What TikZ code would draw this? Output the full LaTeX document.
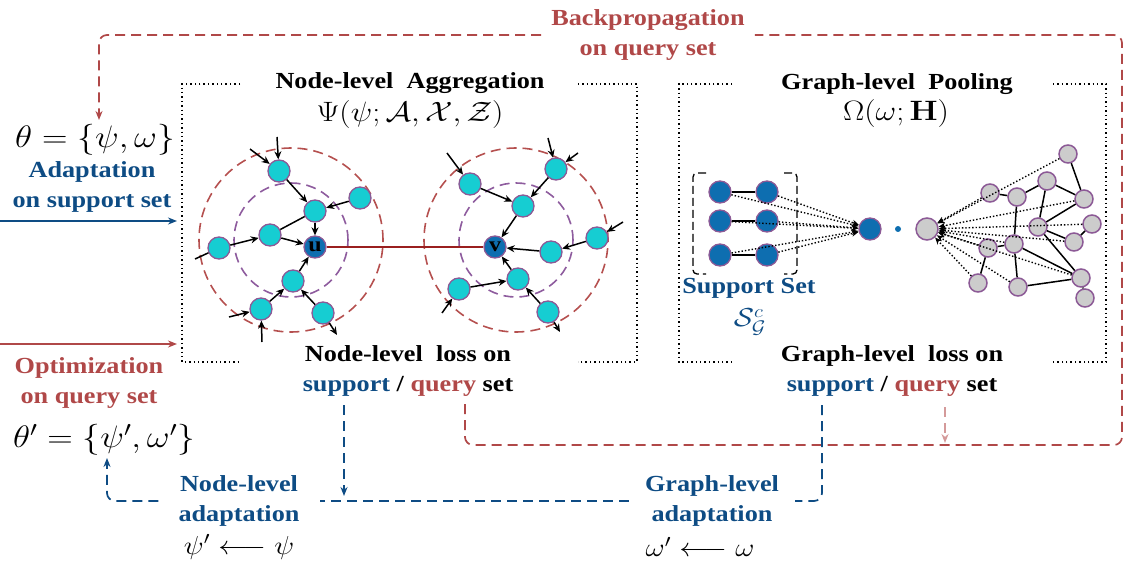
\RequirePackage{fix-cm}
\documentclass[tikz,border=0pt]{standalone}
\usepackage{amsmath}
\usepackage[no-math]{fontspec}
\setmainfont[FakeStretch=1.14]{Liberation Serif}
\usepackage{tikz}
\usetikzlibrary{arrows.meta,positioning}
\definecolor{redc}{HTML}{B04848}
\definecolor{lredc}{HTML}{D49A9A}
\definecolor{bluec}{HTML}{0E4C84}
\definecolor{cyanc}{HTML}{16CDD2}
\definecolor{nodeb}{HTML}{0E6EB0}
\definecolor{purpc}{HTML}{8C5A96}
\definecolor{greyc}{HTML}{CCCCCC}
\definecolor{uvc}{HTML}{9A1F1F}
\definecolor{circr}{HTML}{B5504F}
\definecolor{circp}{HTML}{8E5C9E}
\tikzset{
  lbl/.style={font=\fontsize{23}{30}\selectfont\bfseries,align=center,inner sep=0pt},
  mth/.style={font=\fontsize{#1}{#1}\selectfont,inner sep=0pt},
  cnode/.style={circle,draw=purpc,line width=1.3pt,fill=cyanc,minimum size=22pt,inner sep=0pt},
  bnode/.style={cnode,fill=nodeb,font=\fontsize{21}{21}\selectfont\bfseries},
  gnode/.style={circle,draw=purpc,line width=1.5pt,fill=greyc,minimum size=18pt,inner sep=0pt},
  ar/.style={-{Stealth[length=8pt,width=7pt]},line width=1.5pt},
  ln/.style={line width=1.5pt},
  dotar/.style={-{Stealth[length=7pt,width=6pt]},dotted,line width=1.4pt},
  frame/.style={dash pattern=on 1.4pt off 3pt,line width=1.4pt},
  odash/.style={circr,dash pattern=on 10pt off 6pt,line width=1.6pt},
  idash/.style={circp,dash pattern=on 10pt off 6pt,line width=1.6pt},
  rdash/.style={redc,dash pattern=on 10pt off 6pt,line width=1.7pt,rounded corners=8pt},
  bdash/.style={bluec,dash pattern=on 10pt off 6pt,line width=1.7pt,rounded corners=8pt},
  tip/.style={-{Stealth[length=9pt,width=7pt]}}
}
\newcommand{\mstr}[1]{\scalebox{1.14}[1]{$#1$}}

\begin{document}
\begin{tikzpicture}[x=1pt,y=-1pt]
\useasboundingbox (0,0) rectangle (1124,561);

% dotted frames
\draw[frame] (240,84) -| (182,362) -- (240,362);
\draw[frame] (578,84) -| (637,362) -- (578,362);
\draw[frame] (732,84) -| (679,362) -- (732,362);
\draw[frame] (1053,84) -| (1106,362) -- (1053,362);

% titles
\node[lbl] (nlagg) at (410,83) {Node-level\ \ Aggregation};
\node[mth=28] (psi) at (410,115) {\mstr{\Psi(\psi;\mathcal{A},\mathcal{X},\mathcal{Z})}};
\node[lbl] (glpool) at (897,84) {Graph-level\ \ Pooling};
\node[mth=28] (omg) at (896,114) {\mstr{\Omega(\omega;\mathbf{H})}};
\node[lbl] (nlloss) at (408,371) {Node-level\ \ loss on\\\textcolor{bluec}{support} / \textcolor{redc}{query} set};
\node[lbl] (glloss) at (892,371) {Graph-level\ \ loss on\\\textcolor{bluec}{support} / \textcolor{redc}{query} set};

% neighbourhood of u
\draw[odash] (291,240) circle[radius=92pt];
\draw[idash] (291,240) circle[radius=57pt];
\node[bnode] (u) at (315,247) {u};
\node[cnode] (n1) at (279,171) {};
\node[cnode] (n2) at (315,211) {};
\node[cnode] (n3) at (360,198) {};
\node[cnode] (n4) at (270,235) {};
\node[cnode] (n5) at (219,248) {};
\node[cnode] (n6) at (293,281) {};
\node[cnode] (n7) at (261,309) {};
\node[cnode] (n8) at (323,313) {};
\draw[ar] (n1) -- (n2);
\draw[ar] (n3) -- (n2);
\draw[ar] (n2) -- (u);
\draw[ln] (n4) -- (n2);
\draw[ar] (n4) -- (u);
\draw[ar] (n5) -- (n4);
\draw[ar] (n6) -- (u);
\draw[ar] (n7) -- (n6);
\draw[ar] (n8) -- (n6);
\coordinate (n1a) at (277,137);
\coordinate (n1b) at (250,149);
\coordinate (n5a) at (195,259);
\coordinate (n7a) at (229,317);
\coordinate (n7b) at (262,342);
\coordinate (n8a) at (337,335);
\draw[ar] (n1a) -- (n1);
\draw[ar] (n1b) -- (n1);
\draw[ln] (n5a) -- (n5);
\draw[ar] (n7a) -- (n7);
\draw[ar] (n7b) -- (n7);
\draw[ar] (n8) -- (n8a);

% neighbourhood of v
\draw[odash] (516,240) circle[radius=92pt];
\draw[idash] (516,240) circle[radius=57pt];
\node[bnode] (v) at (495,247) {v};
\node[cnode] (m1) at (470,184) {};
\node[cnode] (m2) at (523,206) {};
\node[cnode] (m3) at (556,169) {};
\node[cnode] (m4) at (551,252) {};
\node[cnode] (m5) at (597,238) {};
\node[cnode] (m6) at (518,279) {};
\node[cnode] (m7) at (459,289) {};
\node[cnode] (m8) at (548,312) {};
\draw[ar] (m1) -- (m2);
\draw[ar] (m3) -- (m2);
\draw[ar] (m2) -- (v);
\draw[ar] (m4) -- (v);
\draw[ar] (m5) -- (m4);
\draw[ar] (m6) -- (v);
\draw[ar] (m7) -- (m6);
\draw[ar] (m8) -- (m6);
\coordinate (m1a) at (447,153);
\coordinate (m3a) at (548,138);
\coordinate (m3b) at (578,153);
\coordinate (m5a) at (623,222);
\coordinate (m7a) at (442,313);
\coordinate (m8a) at (560,332);
\draw[ar] (m1a) -- (m1);
\draw[ar] (m3a) -- (m3);
\draw[ar] (m3b) -- (m3);
\draw[ar] (m5a) -- (m5);
\draw[ar] (m7a) -- (m7);
\draw[ar] (m8) -- (m8a);
\draw[uvc,line width=1.6pt] (u) -- (v);

% support set
\node[bnode] (s11) at (720,192) {};
\node[bnode] (s12) at (767,192) {};
\node[bnode] (s21) at (720,221) {};
\node[bnode] (s22) at (767,221) {};
\node[bnode] (s31) at (720,255) {};
\node[bnode] (s32) at (767,255) {};
\draw[ln] (s11) -- (s12);
\draw[ln] (s21) -- (s22);
\draw[ln] (s31) -- (s32);
\draw[dash pattern=on 8pt off 4pt,line width=1.3pt,rounded corners=4pt] (706,173) -- (693,173) -- (693,274) -- (706,274);
\draw[dash pattern=on 8pt off 4pt,line width=1.3pt,rounded corners=4pt] (784,173) -- (797,173) -- (797,274) -- (784,274);
\node[lbl,text=bluec] (sset) at (749,288) {Support Set};
\node[mth=26,text=bluec] (scg) at (750,322) {\mstr{\mathcal{S}^{c}_{\mathcal{G}}}};
\node[bnode] (tg) at (870,229) {};
\node[circle,fill=nodeb,inner sep=0pt,minimum size=6pt] (mid) at (898,229) {};
\node[gnode,minimum size=22pt] (g0) at (927,229) {};
\foreach \s in {s11,s12,s21,s22,s31,s32}
  \draw[dotar] (\s) -- (tg);

% query graph
\node[gnode] (a1) at (1068,154) {};
\node[gnode] (a2) at (1047,181) {};
\node[gnode] (a3) at (990,193) {};
\node[gnode] (a4) at (1017,197) {};
\node[gnode] (a5) at (1084,199) {};
\node[gnode] (a6) at (1092,224) {};
\node[gnode] (a7) at (1038,227) {};
\node[gnode] (a8) at (1074,242) {};
\node[gnode] (a9) at (1014,244) {};
\node[gnode] (a10) at (988,248) {};
\node[gnode] (a11) at (1081,278) {};
\node[gnode] (a12) at (978,283) {};
\node[gnode] (a13) at (1018,287) {};
\node[gnode] (a14) at (1085,298) {};
\foreach \a/\b in {a1/a5,a2/a5,a2/a4,a2/a7,a3/a4,a4/a9,a5/a7,a7/a8,a8/a6,a7/a11,a9/a10,a10/a12,a9/a11,a9/a13,a13/a11,a11/a14}
  \draw[ln] (\a) -- (\b);
\foreach \a in {a1,a3,a5,a6,a8,a9,a10,a11,a12,a13}
  \draw[dotar] (\a) -- (g0);

% left column
\node[mth=31] (theta) at (95,140) {\mstr{\theta=\{\psi,\omega\}}};
\node[lbl,text=bluec] (adapt) at (92,187) {Adaptation\\on support set};
\coordinate (inS) at (0,221);
\coordinate (inSe) at (177,221);
\draw[bluec,line width=1.6pt,tip] (inS) -- (inSe);
\coordinate (inQ) at (0,344);
\coordinate (inQe) at (177,344);
\draw[redc,line width=1.6pt,tip] (inQ) -- (inQe);
\node[lbl,text=redc] (optim) at (89,383) {Optimization\\on query set};
\node[mth=31] (theta2) at (104,440) {\mstr{\theta'=\{\psi',\omega'\}}};

% backpropagation loop
\node[lbl,text=redc,inner xsep=10pt] (bp) at (648,35) {Backpropagation\\on query set};
\coordinate (q1) at (465,404);
\coordinate (rb) at (1122,445);
\coordinate (thtop) at (99,120);
\draw[rdash] (q1) |- (rb) |- (bp.east);
\draw[rdash,tip] (bp.west) -| (thtop);
\coordinate (q2) at (945,407);
\coordinate (q2e) at (945,443);
\draw[rdash,lredc,tip] (q2) -- (q2e);

% adaptation loop
\node[lbl,text=bluec,inner xsep=20pt] (nlad) at (239,501) {Node-level\\adaptation};
\node[mth=26] (nlup) at (239,547) {\mstr{\psi'\longleftarrow\psi}};
\node[lbl,text=bluec,inner xsep=16pt] (glad) at (712,501) {Graph-level\\adaptation};
\node[mth=26] (glup) at (700,547) {\mstr{\omega'\longleftarrow\omega}};
\coordinate (gs) at (822,405);
\coordinate (ns) at (344,405);
\coordinate (nse) at (344,496);
\coordinate (thbot) at (107,458);
\draw[bdash] (gs) |- (glad.east);
\draw[bdash] (glad.west) -- (nlad.east);
\draw[bdash,tip] (nlad.west) -| (thbot);
\draw[bdash,tip] (ns) -- (nse);
\end{tikzpicture}
\end{document}
